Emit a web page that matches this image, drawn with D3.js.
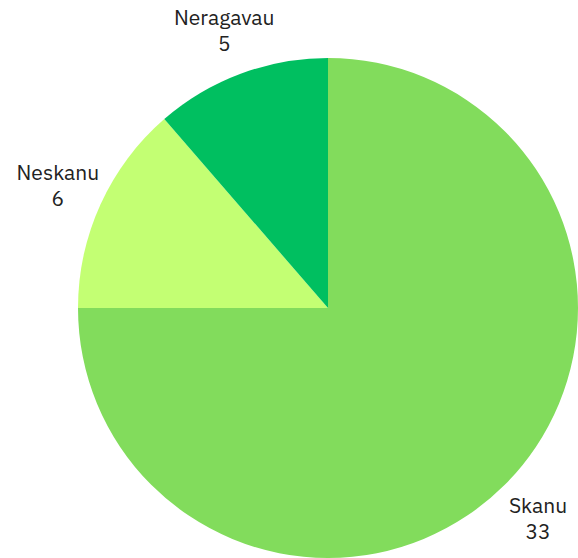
<!DOCTYPE html>
<html>
<head>
<meta charset="utf-8">
<script src="https://cdn.jsdelivr.net/npm/d3@7"></script>
<style>
  body { margin: 0; background: #fff; }
</style>
</head>
<body>
<script>
// pie data
var categories = ["Skanu", "Neskanu", "Neragavau"];
var values = [33, 6, 5];
var colors = ["#82dc5c", "#c3ff73", "#00bf60"];

var width = 578, height = 558;
var cx = 328, cy = 308, radius = 250, labelRadius = 297;

var svg = d3.select("body")
	.append("svg")
	.attr("width", width)
	.attr("height", height);

var g = svg.append("g").attr("transform", "translate(" + cx + "," + cy + ")");

var data = categories.map(function(c, i) { return {label: c, value: values[i], color: colors[i]}; });

var pie = d3.pie()
	.sort(null)
	.value(function(d) { return d.value; });

var arc = d3.arc().innerRadius(0).outerRadius(radius);
var labelArc = d3.arc().innerRadius(labelRadius).outerRadius(labelRadius);

var arcs = pie(data);

// slices
g.selectAll("path")
	.data(arcs)
	.enter().append("path")
	.attr("d", arc)
	.attr("fill", function(d) { return d.data.color; });

// labels: name + value
var labels = g.selectAll("text")
	.data(arcs)
	.enter().append("text")
	.attr("transform", function(d) { return "translate(" + labelArc.centroid(d) + ")"; })
	.attr("text-anchor", "middle")
	.attr("font-family", "'IBM Plex Sans', 'Noto Sans', sans-serif")
	.attr("font-size", 21)
	.attr("fill", "#222");

labels.append("tspan")
	.attr("x", 0)
	.attr("y", -5)
	.text(function(d) { return d.data.label; });

labels.append("tspan")
	.attr("x", 0)
	.attr("y", 21)
	.text(function(d) { return d.data.value; });
</script>
</body>
</html>
